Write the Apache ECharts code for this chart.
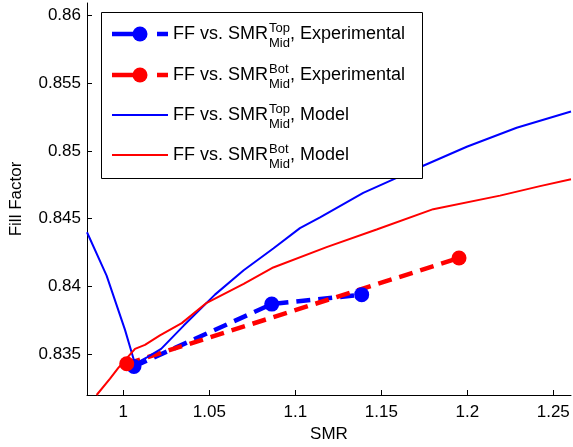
<!DOCTYPE html>
<html>
<head>
<meta charset="utf-8">
<script src="https://cdn.jsdelivr.net/npm/echarts@6/dist/echarts.min.js"></script>
<style>
html, body { margin: 0; padding: 0; background: #fff; }
#chart { width: 573px; height: 447px; }
</style>
</head>
<body>
<div id="chart"></div>
<script>
// experimental points
var topExpX = [1.0062, 1.0863, 1.1386];
var topExpY = [0.8341, 0.8387, 0.8394];
var botExpX = [1.0020, 1.1952];
var botExpY = [0.8343, 0.8421];

// model curves
var topModelX = [0.9789, 0.9903, 1.0010, 1.0068, 1.0140, 1.0220, 1.0350, 1.0533, 1.0700, 1.0872,
    1.1027, 1.1144, 1.1395, 1.1570, 1.1744, 1.1997, 1.2287, 1.2603];
var topModelY = [0.8440, 0.8408, 0.8368, 0.8343, 0.8348, 0.8354, 0.8371, 0.8394, 0.8412, 0.8428,
    0.8443, 0.8451, 0.8469, 0.8479, 0.8489, 0.8503, 0.8517, 0.8529];
var botModelX = [0.9845, 0.9923, 0.9971, 1.0068, 1.0126, 1.0213, 1.0340, 1.0485, 1.0700, 1.0872,
    1.1182, 1.1473, 1.1802, 1.2190, 1.2423, 1.2603];
var botModelY = [0.8320, 0.8332, 0.8340, 0.8354, 0.8357, 0.8364, 0.8373, 0.8388, 0.8402, 0.8414,
    0.8429, 0.8442, 0.8457, 0.8467, 0.8474, 0.8479];

var xTicks = [1, 1.05, 1.1, 1.15, 1.2, 1.25];
var yTicks = [0.835, 0.84, 0.845, 0.85, 0.855, 0.86];

// legend rows: superscript, suffix, colour, experimental?
var legendSup = ['Top', 'Bot', 'Top', 'Bot'];
var legendSuffix = [', Experimental', ', Experimental', ', Model', ', Model'];
var legendColor = ['#0000ff', '#ff0000', '#0000ff', '#ff0000'];
var legendExp = [true, true, false, false];

var FONT = '"Liberation Sans", Arial, sans-serif';

function pairs(xs, ys) {
    return xs.map(function (x, i) { return [x, ys[i]]; });
}

var ctx = document.createElement('canvas').getContext('2d');
function textWidth(str, size) {
    ctx.font = size + 'px ' + FONT;
    return ctx.measureText(str).width;
}

// legend drawn by hand so the SMR can carry stacked super/subscripts
var legendItems = [{
    type: 'rect',
    shape: {x: 101.5, y: 12.5, width: 321, height: 166},
    style: {fill: '#fff', stroke: '#000', lineWidth: 1},
    z: 100
}];
var rowY = [34, 75, 115, 155];
rowY.forEach(function (y, i) {
    var c = legendColor[i];
    if (legendExp[i]) {
        legendItems.push({type: 'line', shape: {x1: 112, y1: y, x2: 133, y2: y},
            style: {stroke: c, lineWidth: 4.5}, z: 101});
        legendItems.push({type: 'line', shape: {x1: 157, y1: y, x2: 168, y2: y},
            style: {stroke: c, lineWidth: 4.5}, z: 101});
        legendItems.push({type: 'circle', shape: {cx: 140, cy: y, r: 7.5},
            style: {fill: c}, z: 102});
    } else {
        legendItems.push({type: 'line', shape: {x1: 112, y1: y, x2: 168, y2: y},
            style: {stroke: c, lineWidth: 2}, z: 101});
    }
    var x0 = 173;
    var main = 'FF vs. SMR';
    var w = textWidth(main, 18);
    var wSup = Math.max(textWidth(legendSup[i], 13), textWidth('Mid', 13));
    legendItems.push({type: 'text', x: x0, y: y, z: 101,
        style: {text: main, fill: '#000', font: '18px ' + FONT, verticalAlign: 'middle'}});
    legendItems.push({type: 'text', x: x0 + w + 1, y: y - 6, z: 101,
        style: {text: legendSup[i], fill: '#000', font: '13px ' + FONT, verticalAlign: 'middle'}});
    legendItems.push({type: 'text', x: x0 + w + 1, y: y + 9, z: 101,
        style: {text: 'Mid', fill: '#000', font: '13px ' + FONT, verticalAlign: 'middle'}});
    legendItems.push({type: 'text', x: x0 + w + wSup + 1, y: y, z: 101,
        style: {text: legendSuffix[i], fill: '#000', font: '18px ' + FONT, verticalAlign: 'middle'}});
});

var axisCommon = {
    type: 'value',
    nameLocation: 'middle',
    nameTextStyle: {color: '#000', fontSize: 17, fontFamily: FONT},
    axisLine: {onZero: false, lineStyle: {color: '#000', width: 1}},
    axisTick: {inside: true, length: 5, lineStyle: {color: '#000'}},
    axisLabel: {color: '#000', fontSize: 17, fontFamily: FONT},
    splitLine: {show: false}
};

var chart = echarts.init(document.getElementById('chart'));
chart.setOption({
    animation: false,
    backgroundColor: '#fff',
    grid: {left: 87, right: 2, top: 3, bottom: 52, containLabel: false, outerBoundsMode: 'none'},
    xAxis: echarts.util.merge({
        name: 'SMR',
        nameGap: 29,
        min: 0.9789,
        max: 1.2603,
        axisTick: {customValues: xTicks},
        axisLabel: {customValues: xTicks, margin: 9}
    }, axisCommon),
    yAxis: echarts.util.merge({
        name: 'Fill Factor',
        nameGap: 62,
        min: 0.8320,
        max: 0.8609,
        axisTick: {customValues: yTicks},
        axisLabel: {customValues: yTicks, margin: 6}
    }, axisCommon),
    graphic: legendItems,
    series: [
        {
            type: 'line',
            data: pairs(topExpX, topExpY),
            symbol: 'circle',
            symbolSize: 15,
            itemStyle: {color: '#0000ff'},
            lineStyle: {color: '#0000ff', width: 4.5, type: [14, 8]}
        },
        {
            type: 'line',
            data: pairs(botExpX, botExpY),
            symbol: 'circle',
            symbolSize: 15,
            itemStyle: {color: '#ff0000'},
            lineStyle: {color: '#ff0000', width: 4.5, type: [14, 8]}
        },
        {
            type: 'line',
            data: pairs(topModelX, topModelY),
            showSymbol: false,
            lineStyle: {color: '#0000ff', width: 2}
        },
        {
            type: 'line',
            data: pairs(botModelX, botModelY),
            showSymbol: false,
            lineStyle: {color: '#ff0000', width: 2}
        }
    ]
});
</script>
</body>
</html>
